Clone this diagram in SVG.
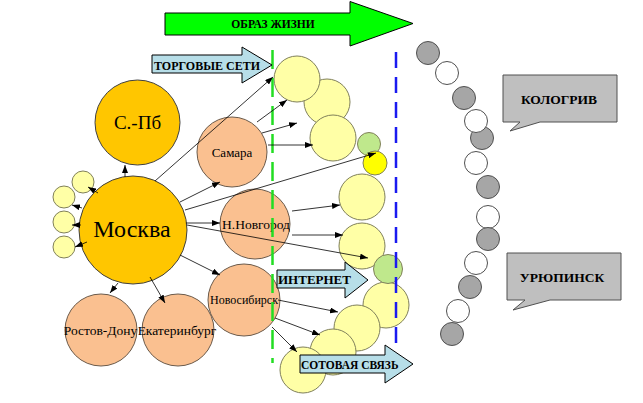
<svg xmlns="http://www.w3.org/2000/svg" width="643" height="403" viewBox="0 0 643 403">
<style>
.gold{fill:#FFC600;stroke:#404040;stroke-width:1}
.city{fill:#FAC090;stroke:#6b5a4a;stroke-width:1}
.yel{fill:#FFFFA6;stroke:#80805a;stroke-width:1}
.lg{fill:#BFE88C;stroke:#80805a;stroke-width:1}
.by{fill:#FFFF00;stroke:#80805a;stroke-width:1}
.gr{fill:#A6A6A6;stroke:#505050;stroke-width:1}
.wh{fill:#FFFFFF;stroke:#505050;stroke-width:1}
.call{fill:#BFBFBF;stroke:#505050;stroke-width:1}
.blue{fill:#B7DEE8;stroke:#000;stroke-width:1}
.t{font-family:"Liberation Serif","Times New Roman",serif;fill:#000}
.b{font-family:"Liberation Serif","Times New Roman",serif;font-weight:bold;fill:#000}
.con line{stroke:#000;stroke-width:0.8;marker-end:url(#ah)}
</style>
<defs>
<marker id="ah" markerUnits="userSpaceOnUse" markerWidth="8" markerHeight="6" refX="8" refY="3" orient="auto">
<path d="M0,0 L8,3 L0,6 z" fill="#000"/>
</marker>
</defs>
<rect width="643" height="403" fill="#fff"/>

<g id="arrow-obraz">
<path d="M165,13 H350 V1.5 L413,23.5 L350,46 V35 H165 Z" fill="#00FF00" stroke="#000" stroke-width="1"/>
<text class="b" x="273" y="27.5" font-size="11.5" text-anchor="middle">ОБРАЗ ЖИЗНИ</text>
</g>

<g id="circles-right">
<circle id="c-b" class="yel" cx="327" cy="102" r="23"/>
<circle id="c-a" class="yel" cx="297" cy="79" r="23"/>
<circle id="c-c" class="yel" cx="333" cy="138" r="23"/>
<circle id="c-d" class="lg" cx="369" cy="144" r="11.5"/>
<circle id="c-e" class="by" cx="375" cy="163" r="12"/>
<circle id="c-f" class="yel" cx="362" cy="197" r="23"/>
<circle id="c-g" class="yel" cx="362" cy="246" r="23"/>
<circle id="c-i" class="yel" cx="386" cy="305" r="23"/>
<circle id="c-h" class="lg" cx="388" cy="269" r="14.5"/>
<circle id="c-j" class="yel" cx="357" cy="328" r="23"/>
<circle id="c-k" class="yel" cx="333" cy="352" r="23"/>
<circle id="c-l" class="yel" cx="303" cy="370" r="23"/>
</g>

<g id="node-spb"><circle class="gold" cx="137.5" cy="122.5" r="42.5"/>
<text class="t" x="137.5" y="128.5" font-size="19" text-anchor="middle">С.-Пб</text></g>
<g id="node-moskva"><circle class="gold" cx="133" cy="230" r="54"/>
<text class="t" x="132" y="237" font-size="24" text-anchor="middle">Москва</text></g>
<g id="small-left">
<circle class="yel" cx="83" cy="182" r="11"/>
<circle class="yel" cx="64" cy="197" r="11"/>
<circle class="yel" cx="64" cy="222" r="11"/>
<circle class="yel" cx="64" cy="247" r="11"/>
</g>
<g id="node-samara"><circle class="city" cx="232" cy="152" r="35"/>
<text class="t" x="232" y="157" font-size="13" text-anchor="middle">Самара</text></g>
<g id="node-nnovgorod"><circle class="city" cx="255" cy="224" r="35"/>
<text class="t" x="256" y="228.5" font-size="13.5" text-anchor="middle">Н.Новгород</text></g>
<g id="node-novosibirsk"><circle class="city" cx="244" cy="300" r="36"/>
<text class="t" x="244" y="303.5" font-size="12" text-anchor="middle">Новосибирск</text></g>
<g id="node-rostov"><circle class="city" cx="101" cy="330" r="36"/>
<text class="t" x="100.5" y="335" font-size="13.5" text-anchor="middle">Ростов-Дону</text></g>
<g id="node-ekb"><circle class="city" cx="178" cy="330" r="36"/>
<text class="t" x="177" y="335" font-size="13.5" text-anchor="middle">Екатеринбург</text></g>

<g id="dividers">
<line x1="272.5" y1="50" x2="272.5" y2="363" stroke="#22DD22" stroke-width="2.5" stroke-dasharray="19 9"/>
<line x1="396" y1="52" x2="396" y2="345" stroke="#1A1AF0" stroke-width="2.5" stroke-dasharray="16 9"/>
</g>

<g class="con" id="connectors">
<line x1="125" y1="177" x2="125" y2="165"/>
<line x1="98" y1="193" x2="88" y2="187"/>
<line x1="82" y1="208" x2="72" y2="205"/>
<line x1="81" y1="225" x2="72" y2="225"/>
<line x1="87" y1="242" x2="75" y2="247"/>
<line x1="155" y1="181" x2="273" y2="77"/>
<line x1="180" y1="202" x2="220" y2="182"/>
<line x1="185" y1="210" x2="376" y2="153"/>
<line x1="186" y1="223" x2="220" y2="223"/>
<line x1="187" y1="225" x2="368" y2="258"/>
<line x1="180" y1="255" x2="220" y2="275"/>
<line x1="118" y1="283" x2="110" y2="293"/>
<line x1="150" y1="277" x2="165" y2="303"/>
<line x1="257" y1="122" x2="287" y2="100"/>
<line x1="262" y1="133" x2="297" y2="123"/>
<line x1="268" y1="145" x2="313" y2="145"/>
<line x1="292" y1="211" x2="340" y2="205"/>
<line x1="292" y1="235" x2="343" y2="235"/>
<line x1="278" y1="300" x2="338" y2="312"/>
<line x1="275" y1="318" x2="320" y2="335"/>
<line x1="272" y1="327" x2="297" y2="352"/>
</g>

<g id="arrow-torg">
<path d="M152,55 H242 V47 L272,65 L242,83 V73 H152 Z" class="blue"/>
<text class="b" x="154" y="70" font-size="12">ТОРГОВЫЕ СЕТИ</text>
</g>
<g id="arrow-internet">
<path d="M277,270 H345 V262 L368,280 L345,298 V288 H277 Z" class="blue"/>
<text class="b" x="278" y="284" font-size="13">ИНТЕРНЕТ</text>
</g>
<g id="arrow-sotovaya">
<path d="M300,355 H385 V345 L413,364 L385,383 V373 H300 Z" class="blue"/>
<text class="b" x="301" y="368.5" font-size="11.5">СОТОВАЯ СВЯЗЬ</text>
</g>

<g id="chain">
<circle class="gr" cx="428" cy="53" r="11.5"/>
<circle class="wh" cx="447" cy="73" r="11.5"/>
<circle class="gr" cx="464" cy="98" r="11.5"/>
<circle class="gr" cx="482" cy="138" r="11.5"/>
<circle class="wh" cx="476" cy="121" r="11.5"/>
<circle class="wh" cx="476" cy="163" r="11.5"/>
<circle class="gr" cx="488" cy="187" r="11.5"/>
<circle class="wh" cx="488" cy="217" r="11.5"/>
<circle class="gr" cx="488" cy="239" r="11.5"/>
<circle class="wh" cx="476" cy="263" r="11.5"/>
<circle class="gr" cx="470" cy="287" r="11.5"/>
<circle class="wh" cx="458" cy="311" r="11.5"/>
<circle class="gr" cx="452" cy="334" r="11.5"/>
</g>

<g id="callout-kologriv">
<path class="call" d="M503,75 H617 V122 H540 L510,131 L520,122 H503 Z"/>
<text class="b" x="559" y="104" font-size="13.5" text-anchor="middle">КОЛОГРИВ</text>
</g>
<g id="callout-uryupinsk">
<path class="call" d="M507,253 H621 V300 H550 L513,310 L525,300 H507 Z"/>
<text class="b" x="562" y="282" font-size="13.5" text-anchor="middle">УРЮПИНСК</text>
</g>
</svg>
